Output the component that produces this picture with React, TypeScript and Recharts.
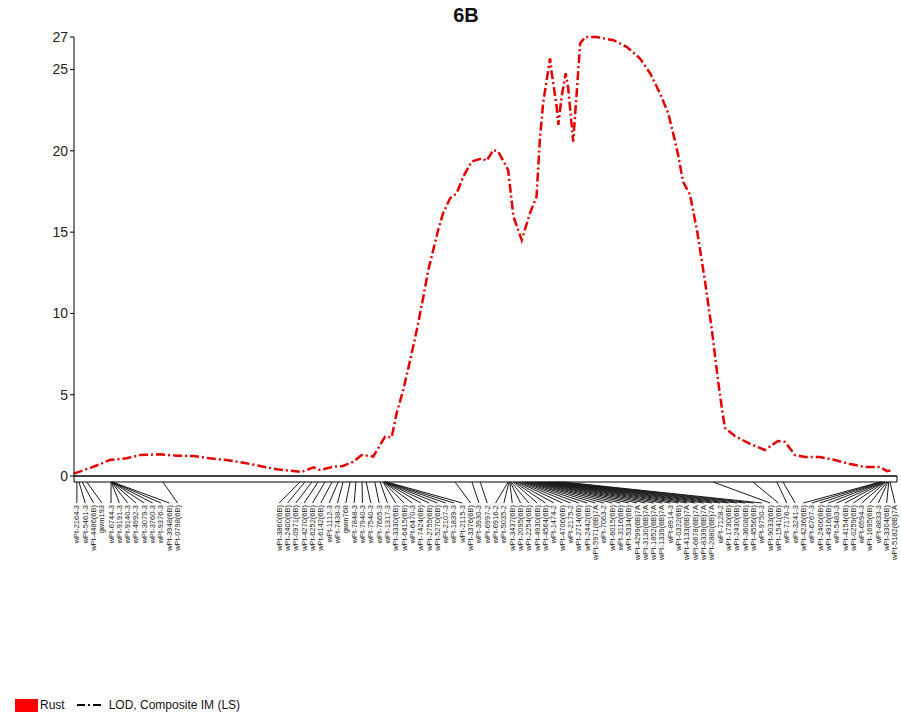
import { LineChart, Line, XAxis, YAxis, ReferenceArea } from "recharts";

// chart geometry
const CHART_W = 901;
const CHART_H = 715;
const MARGIN = { top: 37, right: 4, bottom: 0, left: 14 };
const Y_AXIS_W = 60;
const X_AXIS_H = 239;
const CM_MAX = 200;
const LOD_MAX = 27;

const PLOT_W = CHART_W - MARGIN.left - MARGIN.right - Y_AXIS_W;
const PLOT_H = CHART_H - MARGIN.top - MARGIN.bottom - X_AXIS_H;
const PX_PER_CM = PLOT_W / CM_MAX;
const LABEL_GAP_PX = 8.32;
const BAR_PX = 6;

const FONT = '"Liberation Sans", Arial, sans-serif';

// LOD profile along chromosome 6B (cM, LOD)
const lodPositions = [
  0.0, 4.7, 8.7, 12.8, 16.0, 20.9, 25.0, 29.0, 33.0, 37.1, 41.1, 45.2, 49.3, 53.3, 55.3,
  58.2, 59.8, 63.0, 65.4, 67.9, 69.9, 72.7, 75.6, 77.2, 78.4, 80.0, 81.7, 83.3, 84.9, 86.1,
  87.3, 88.5, 89.7, 91.4, 93.0, 94.6, 96.6, 99.1, 100.3, 101.9, 103.1, 105.5, 106.8, 108.8,
  110.8, 112.4, 113.2, 114.0, 115.7, 116.1, 117.3, 117.7, 118.5, 119.5, 120.1, 121.3, 122.1,
  123.0, 124.2, 127.0, 131.1, 134.3, 137.5, 140.0, 142.4, 144.4, 146.0, 146.9, 148.0, 149.7,
  151.4, 153.3, 155.0, 156.5, 157.5, 158.2, 160.6, 164.3, 167.9, 169.6, 171.1, 172.8, 175.2,
  177.6, 181.3, 184.9, 188.6, 192.2, 195.9, 197.6, 199.0,
];
const lodValues = [
  0.15, 0.57, 0.98, 1.09, 1.29, 1.33, 1.25, 1.23, 1.09, 0.98, 0.82, 0.62, 0.41, 0.31, 0.25,
  0.53, 0.37, 0.57, 0.62, 0.88, 1.29, 1.19, 2.42, 2.38, 3.85, 5.29, 7.13, 8.98, 11.03, 12.67,
  13.9, 15.13, 16.16, 17.08, 17.39, 18.41, 19.33, 19.54, 19.39, 20.05, 19.95, 18.82, 15.95, 14.51,
  16.16, 17.18, 20.66, 22.92, 25.69, 24.77, 22.71, 21.59, 23.33, 24.77, 23.85, 20.56, 23.33,
  26.6, 27.0, 27.0, 26.8, 26.4, 25.69, 24.77, 23.54, 22.31, 20.66, 19.64, 18.1, 17.3,
  15.1, 12.05, 9.0, 5.9, 4.06, 2.95, 2.46, 1.97, 1.6, 1.9, 2.15, 2.1, 1.29,
  1.17, 1.17, 0.98, 0.74, 0.55, 0.55, 0.3, 0.37,
];

const yTicks = [0, 5, 10, 15, 20, 25, 27];

// linkage map markers
const markerNames = [
  "wPt-2164-3", "wPt-5461-3", "wPt-4486(6B)", "gwm193", "wPt-6744-3", "wPt-9191-3",
  "wPt-9140-3", "wPt-4992-3", "wPt-3079-3", "wPt-3760-3", "wPt-9376-3", "wPt-3948(6B)",
  "wPt-0798(6B)",
  "wPt-3860(6B)", "wPt-2400(6B)", "wPt-0971(6B)", "wPt-4270(6B)", "wPt-6252(6B)",
  "wPt-6142(6B)", "wPt-1112-3", "wPt-7438-3", "gwm768", "wPt-7848-3", "wPt-7940-3",
  "wPt-7540-3", "wPt-7665-3", "wPt-1317-3", "wPt-3330(6B)", "wPt-6415(6B)", "wPt-6470-3",
  "wPt-7424(6B)", "wPt-2755(6B)", "wPt-5270(6B)", "wPt-2107-3", "wPt-1839-3", "wPt-2115-3",
  "wPt-3376(6B)", "wPt-3930-3", "wPt-6997-2", "wPt-6916-2", "wPt-5035-2", "wPt-3437(6B)",
  "wPt-2095(6B)", "wPt-2254(6B)", "wPt-4930(6B)", "wPt-4564(6B)", "wPt-1474-2", "wPt-4706(6B)",
  "wPt-2175-2", "wPt-2714(6B)", "wPt-2442(6B)", "wPt-5971(6B)7A", "wPt-7063-2", "wPt-6015(6B)",
  "wPt-3116(6B)", "wPt-5334(6B)", "wPt-4299(6B)7A", "wPt-3130(6B)7A", "wPt-1852(6B)7A",
  "wPt-1339(6B)7A", "wPt-8914-3", "wPt-0322(6B)", "wPt-4133(6B)7A", "wPt-6678(6B)7A",
  "wPt-8339(6B)7A", "wPt-2880(6B)7A", "wPt-7128-2", "wPt-1730(6B)", "wPt-2430(6B)",
  "wPt-3608(6B)", "wPt-4556(6B)", "wPt-9750-3", "wPt-9033(6B)", "wPt-1541(6B)", "wPt-7176-3",
  "wPt-3241-3", "wPt-4236(6B)", "wPt-6767-3", "wPt-2406(6B)", "wPt-4916(6B)", "wPt-5483-3",
  "wPt-4154(6B)", "wPt-0259(6B)", "wPt-6594-3", "wPt-1695(6B)", "wPt-8833-3", "wPt-3304(6B)",
  "wPt-5182(6B)7A",
];
const markerPositions = [
  0.7, 1.2, 2.0, 3.1, 9.0, 9.05, 9.1, 9.15, 9.2, 9.25, 9.3, 9.35, 21.6,
  54.9, 56.1, 57.8, 59.3, 61.0, 62.7, 64.2, 65.4, 67.1, 68.5, 70.0, 71.0, 73.1, 74.4,
  75.1, 75.2, 75.3, 75.4, 75.5, 75.6, 75.7, 75.8, 76.0,
  92.6, 96.7, 98.7,
  105.5, 105.7, 105.9, 106.0, 106.2,
  106.7, 107.0, 107.4, 107.9, 108.3, 108.8, 109.2, 109.7, 110.1, 110.6, 111.0, 111.5, 111.9,
  112.4, 112.8, 113.3, 113.7, 114.2, 114.6, 115.1, 115.5, 116.0, 116.4, 116.9, 117.3, 117.8,
  118.3, 118.9,
  155.3, 165.0, 170.8, 172.3,
  195.9, 196.1, 196.3, 196.5, 196.7, 196.9, 197.1, 197.3, 197.6, 197.8, 198.0, 198.3,
];

const lodData = lodPositions.map((cm, i) => ({ cm, lod: lodValues[i] }));

// push labels right so they don't overlap, then pull them back from the right end
function spreadLabels(positions: number[]): number[] {
  const gap = LABEL_GAP_PX / PX_PER_CM;
  const limit = CM_MAX - 0.5;
  const out: number[] = [];
  positions.forEach((p, i) => {
    out.push(i === 0 ? p : Math.max(p, out[i - 1] + gap));
  });
  for (let i = out.length - 1; i >= 0; i--) {
    const cap = i === out.length - 1 ? limit : out[i + 1] - gap;
    out[i] = Math.min(out[i], cap);
  }
  return out;
}

const labelPositions = spreadLabels(markerPositions);

const MarkerTick = ({ x, y, index }: any) => {
  const lx = x + (labelPositions[index] - markerPositions[index]) * PX_PER_CM;
  const top = y + 29;
  return (
    <g>
      <line x1={x} y1={y + BAR_PX} x2={lx} y2={y + 27} stroke="#1a1a1a" strokeWidth={1} />
      <text
        x={lx}
        y={top}
        transform={`rotate(-90 ${lx} ${top})`}
        textAnchor="end"
        dominantBaseline="central"
        fontSize={7.5}
        fontFamily={FONT}
        fill="#1a1a1a"
      >
        {markerNames[index]}
      </text>
    </g>
  );
};

export default function App() {
  const barDepth = (BAR_PX / PLOT_H) * LOD_MAX;

  return (
    <div style={{ position: "absolute", left: 0, top: 0, width: CHART_W, height: CHART_H, background: "#fff" }}>
      <div
        style={{
          position: "absolute",
          left: 0,
          width: 932,
          top: 4,
          textAlign: "center",
          fontFamily: FONT,
          fontWeight: "bold",
          fontSize: 20,
          color: "#111",
        }}
      >
        6B
      </div>
      <LineChart width={CHART_W} height={CHART_H} data={lodData} margin={MARGIN}>
        <XAxis
          dataKey="cm"
          type="number"
          domain={[0, CM_MAX]}
          ticks={markerPositions}
          interval={0}
          tickLine={false}
          tickSize={0}
          tickMargin={0}
          height={X_AXIS_H}
          axisLine={{ stroke: "#000" }}
          tick={(props: any) => <MarkerTick {...props} />}
        />
        <YAxis
          type="number"
          domain={[0, LOD_MAX]}
          ticks={yTicks}
          interval={0}
          width={Y_AXIS_W}
          tickSize={4}
          tickMargin={2}
          axisLine={{ stroke: "#000" }}
          tickLine={{ stroke: "#000" }}
          tick={{ fontSize: 14, fill: "#222", fontFamily: FONT }}
        />
        <ReferenceArea
          x1={0}
          x2={CM_MAX}
          y1={-barDepth}
          y2={0}
          ifOverflow="visible"
          fill="#fff"
          fillOpacity={1}
          stroke="#000"
          strokeWidth={1}
        />
        <Line
          type="linear"
          dataKey="lod"
          stroke="#e60000"
          strokeWidth={2.5}
          strokeDasharray="9 3 2 3"
          dot={false}
          activeDot={false}
          isAnimationActive={false}
        />
      </LineChart>
      <div
        style={{
          position: "absolute",
          left: 15,
          top: 698,
          display: "flex",
          alignItems: "center",
          fontFamily: FONT,
          fontSize: 12,
          color: "#111",
        }}
      >
        <span style={{ display: "inline-block", width: 23, height: 13, background: "#ff0000" }} />
        <span style={{ marginLeft: 2 }}>Rust</span>
        <svg width={26} height={6} style={{ marginLeft: 12 }}>
          <line x1={0} y1={3} x2={24} y2={3} stroke="#000" strokeWidth={2} strokeDasharray="8 3 2 3" />
        </svg>
        <span style={{ marginLeft: 6 }}>LOD, Composite IM (LS)</span>
      </div>
    </div>
  );
}
